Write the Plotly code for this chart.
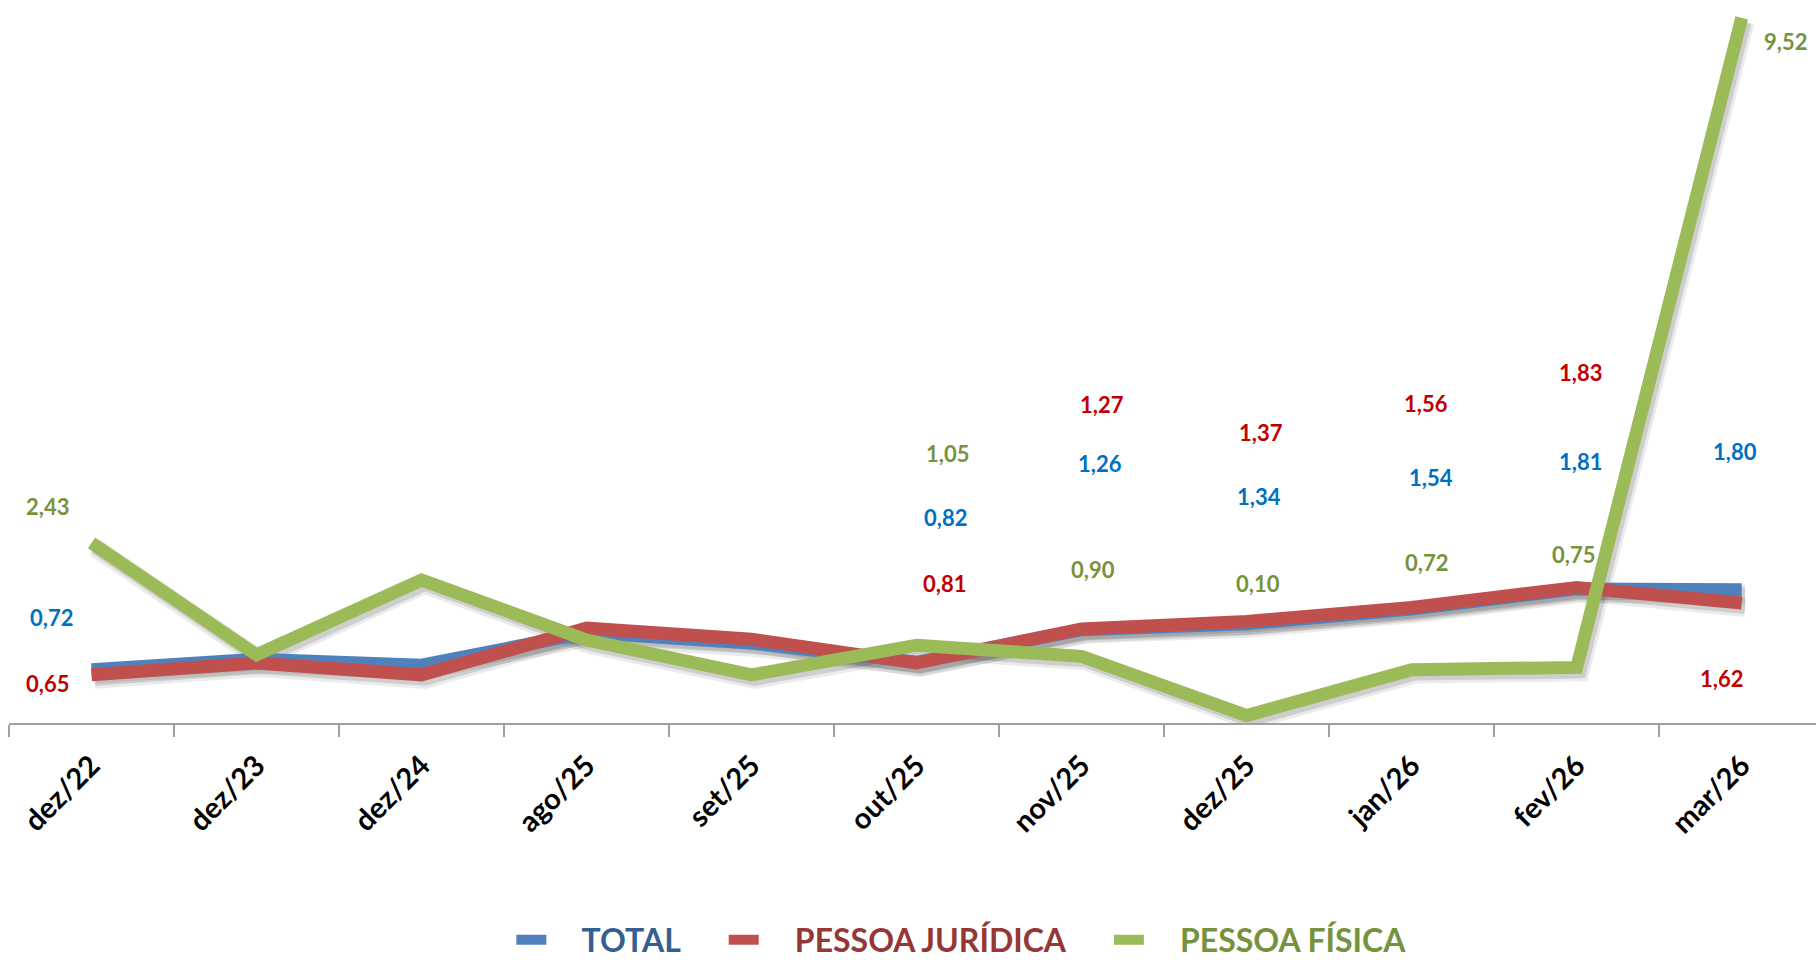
import plotly.graph_objects as go

# ---------------- data ----------------
categories = ["dez/22", "dez/23", "dez/24", "ago/25", "set/25", "out/25",
              "nov/25", "dez/25", "jan/26", "fev/26", "mar/26"]
total = [0.72, 0.86, 0.78, 1.22, 1.08, 0.82, 1.26, 1.34, 1.54, 1.81, 1.80]
pessoa_juridica = [0.65, 0.81, 0.65, 1.28, 1.13, 0.81, 1.27, 1.37, 1.56, 1.83, 1.62]
pessoa_fisica = [2.43, 0.92, 1.93, 1.12, 0.65, 1.05, 0.90, 0.10, 0.72, 0.75, 9.52]
labeled_idx = [0, 5, 6, 7, 8, 9, 10]

# ---------------- styles ----------------
FONT = "Lato"
NB = "\u00a0"
series = [
    dict(name="TOTAL", y=total, line="#4F81BD", label="#0070C0", legend="#365F91", lpad=4, rpad=5,
         dx=[-40.5, 28.5, 18.5, 12.5, 19.5, 3.5, -6.5],
         dy=[52, 145, 166, 127, 131, 127, 138]),
    dict(name="PESSOA JURÍDICA", y=pessoa_juridica, line="#C0504D", label="#C00000", legend="#953735", lpad=4, rpad=5,
         dx=[-44.5, 27.5, 20.5, 14.5, 14.5, 3.5, -20.5],
         dy=[-9, 80, 224, 189, 204, 215, -76]),
    dict(name="PESSOA FÍSICA", y=pessoa_fisica, line="#9BBB59", label="#77933C", legend="#76923C", lpad=4, rpad=0,
         dx=[-44.5, 30.5, 11.5, 11.5, 14.5, -3.5, 43.5],
         dy=[36, 192, 87, 132, 107, 113, -24]),
]

XR = [-0.5, 10.45]
YR = [0, 9.76]
# shadow axes shifted a few pixels right/down
XR_SH = [XR[0] - 0.02, XR[1] - 0.02]
YR_SH = [YR[0] + 0.06, YR[1] + 0.06]

fig = go.Figure()

# shadows (base axes)
for s in series:
    fig.add_trace(go.Scatter(x=categories, y=s["y"], mode="lines",
                             line=dict(color="rgba(0,0,0,0.08)", width=19),
                             showlegend=False, hoverinfo="skip", xaxis="x", yaxis="y"))
    fig.add_trace(go.Scatter(x=categories, y=s["y"], mode="lines",
                             line=dict(color="rgba(0,0,0,0.12)", width=13),
                             showlegend=False, hoverinfo="skip", xaxis="x", yaxis="y"))

# main lines (overlay axes)
for s in series:
    fig.add_trace(go.Scatter(
        x=categories, y=s["y"], mode="lines",
        name=NB * s["lpad"] + f"<span style='color:{s['legend']}'>{s['name']}</span>" + NB * s["rpad"],
        line=dict(color=s["line"], width=13, shape="linear"),
        xaxis="x2", yaxis="y2"))

annotations = []
for s in series:
    for k, i in enumerate(labeled_idx):
        v = s["y"][i]
        annotations.append(dict(
            x=categories[i], y=v, xref="x2", yref="y2", showarrow=False,
            text=f"{v:.2f}".replace(".", ","),
            font=dict(family=FONT, size=22, color=s["label"], weight="bold"),
            xshift=s["dx"][k], yshift=s["dy"][k]))

fig.update_layout(
    template="none",
    width=1816, height=965,
    margin=dict(l=9, r=0, t=0, b=242, pad=0, autoexpand=False),
    paper_bgcolor="white", plot_bgcolor="white",
    annotations=annotations,
    xaxis=dict(type="category", categoryorder="array", categoryarray=categories,
               range=XR_SH, visible=False, fixedrange=True, automargin=False),
    yaxis=dict(range=YR_SH, visible=False, fixedrange=True, automargin=False),
    xaxis2=dict(type="category", categoryorder="array", categoryarray=categories,
                range=XR, overlaying="x", anchor="y2", automargin=False,
                showline=True, linecolor="#A0A0A0", linewidth=2,
                ticks="outside", ticklen=12, tickcolor="#A0A0A0", tickwidth=2,
                tickson="boundaries", tickangle=-45,
                showgrid=False, zeroline=False,
                tickfont=dict(family=FONT, size=29, color="black", weight="bold"),
                ticklabelstandoff=12),
    yaxis2=dict(range=YR, overlaying="y", anchor="x2", visible=False, automargin=False,
                showgrid=False, zeroline=False),
    legend=dict(orientation="h", x=0.278, xanchor="left",
                yref="paper", y=-0.300, yanchor="middle",
                font=dict(family=FONT, size=32, weight="bold"),
                bgcolor="rgba(0,0,0,0)", borderwidth=0),
    showlegend=True,
)

fig.write_html("out.html",
               config={"displayModeBar": False},
               post_script="document.body.style.margin='0';document.body.style.overflow='hidden';")
